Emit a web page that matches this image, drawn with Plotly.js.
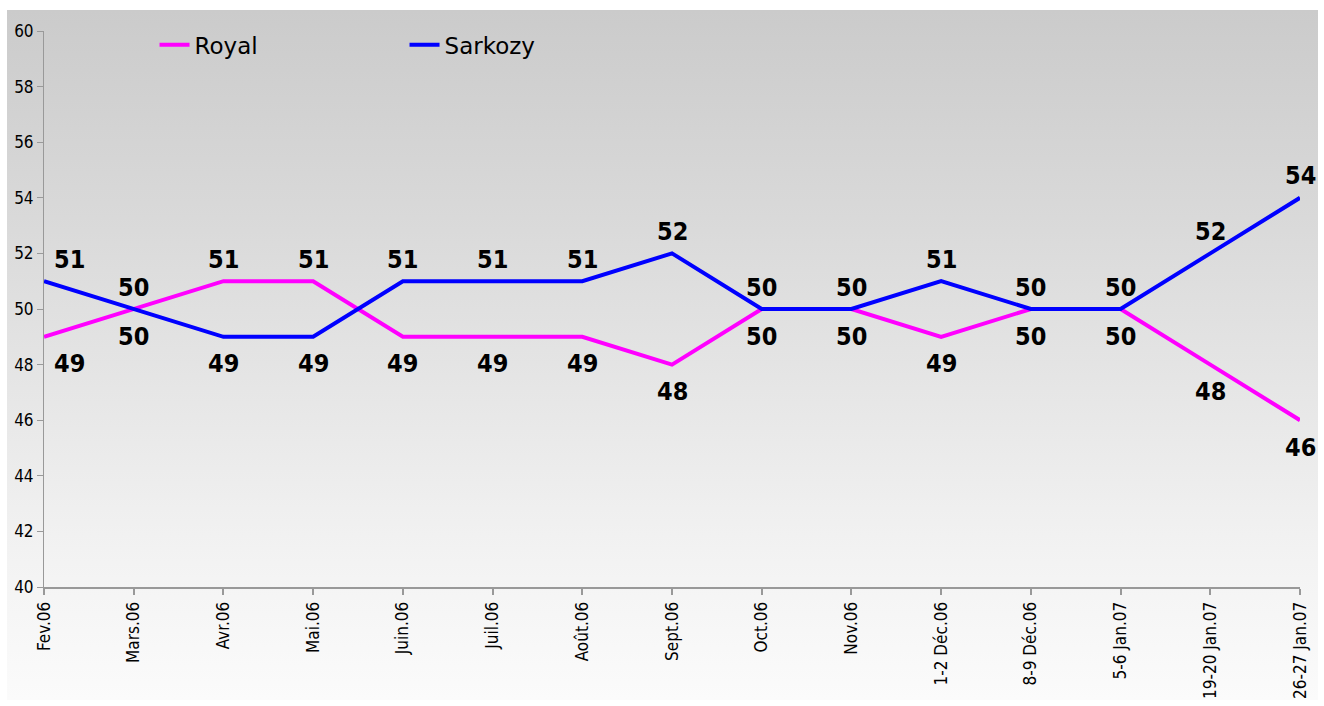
<!DOCTYPE html>
<html><head><meta charset="utf-8">
<script src="https://cdn.plot.ly/plotly-3.0.1.min.js"></script>
<style>
html,body{margin:0;padding:0;background:#fff;}
#bg{position:absolute;left:7px;top:10px;width:1311px;height:690px;background:linear-gradient(#cbcbcb,#d9d9d9 30%,#f3f3f3 80%,#fbfbfb);}
#chart{position:absolute;left:0;top:0;width:1324px;height:706px;}
</style></head><body>
<div id="bg"></div><div id="chart"></div>
<script>
const categories = ["Fev.06","Mars.06","Avr.06","Mai.06","Juin.06","Juil.06","Août.06","Sept.06","Oct.06","Nov.06","1-2 Déc.06","8-9 Déc.06","5-6 Jan.07","19-20 Jan.07","26-27 Jan.07"];
const royal = [49,50,51,51,49,49,49,48,50,50,49,50,50,48,46];
const sarkozy = [51,50,49,49,51,51,51,52,50,50,51,50,50,52,54];

const font = "'DejaVu Sans', sans-serif";
const condFont = "'DejaVu Sans Condensed', 'DejaVu Sans', sans-serif";
const traces = [
  {x:categories, y:royal, name:"Royal", type:"scatter", mode:"lines", line:{color:"#ff00ff", width:4}, cliponaxis:false},
  {x:categories, y:sarkozy, name:"Sarkozy", type:"scatter", mode:"lines", line:{color:"#0000ff", width:4}, cliponaxis:false}
];
const annotations = [];
categories.forEach((c,i)=>{
  const rAbove = royal[i] > sarkozy[i];
  const xs = i===0 ? 25 : 0;
  annotations.push({x:c, y:royal[i], text:String(royal[i]), showarrow:false, xshift:xs, yshift: rAbove?22:-27, font:{family:condFont, size:25, color:"#000", weight:"bold"}});
  annotations.push({x:c, y:sarkozy[i], text:String(sarkozy[i]), showarrow:false, xshift:xs, yshift: rAbove?-27:22, font:{family:condFont, size:25, color:"#000", weight:"bold"}});
});
const layout = {
  width:1324, height:706,
  margin:{l:44, r:24, t:31, b:119},
  paper_bgcolor:"rgba(0,0,0,0)", plot_bgcolor:"rgba(0,0,0,0)",
  font:{family:font, color:"#000"},
  showlegend:true,
  legend:{orientation:"h", x:0.088, y:0.975, xanchor:"left", yanchor:"middle", font:{size:23, family:font}, bgcolor:"rgba(0,0,0,0)", entrywidth:205, entrywidthmode:"pixels"},
  xaxis:{type:"category", range:[0, categories.length-1], showgrid:false, zeroline:false, showline:true, linecolor:"#999", linewidth:2, ticks:"outside", ticklen:6, tickcolor:"#999", tickwidth:2, tickangle:-90, tickfont:{size:17, family:condFont}, automargin:false},
  yaxis:{range:[40,60], dtick:2, showgrid:false, zeroline:false, showline:true, linecolor:"#999", linewidth:1, ticks:"outside", ticklen:6, tickcolor:"#999", tickfont:{size:17, family:condFont}, automargin:false},
  annotations:annotations
};
Plotly.newPlot("chart", traces, layout, {displayModeBar:false, staticPlot:true});
</script></body></html>
